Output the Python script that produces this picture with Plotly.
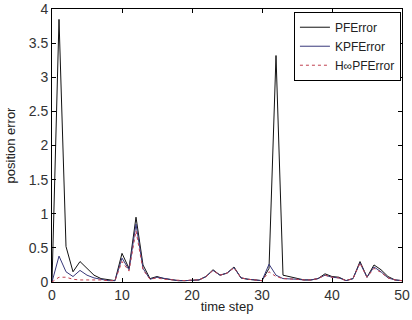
import plotly.graph_objects as go

time_step = list(range(0, 51))
pf_error = [0.0, 3.85, 0.52, 0.15, 0.30, 0.20, 0.10, 0.05, 0.03, 0.02,
            0.42, 0.20, 0.95, 0.25, 0.05, 0.08, 0.05, 0.03, 0.02, 0.02,
            0.03, 0.03, 0.08, 0.18, 0.10, 0.13, 0.22, 0.06, 0.04, 0.03,
            0.02, 0.20, 3.32, 0.10, 0.08, 0.05, 0.03, 0.03, 0.05, 0.12,
            0.08, 0.07, 0.02, 0.05, 0.30, 0.07, 0.25, 0.18, 0.08, 0.03, 0.02]
kpf_error = [0.0, 0.38, 0.15, 0.08, 0.17, 0.10, 0.06, 0.04, 0.02, 0.02,
             0.35, 0.18, 0.85, 0.20, 0.04, 0.07, 0.05, 0.03, 0.02, 0.02,
             0.03, 0.03, 0.08, 0.17, 0.10, 0.13, 0.21, 0.06, 0.04, 0.03,
             0.02, 0.26, 0.10, 0.05, 0.05, 0.04, 0.03, 0.03, 0.05, 0.10,
             0.07, 0.06, 0.02, 0.05, 0.28, 0.07, 0.22, 0.15, 0.06, 0.03, 0.02]
hinf_error = [0.0, 0.07, 0.07, 0.04, 0.03, 0.03, 0.04, 0.03, 0.02, 0.02,
              0.30, 0.16, 0.75, 0.18, 0.04, 0.06, 0.04, 0.03, 0.02, 0.02,
              0.03, 0.03, 0.08, 0.17, 0.10, 0.13, 0.21, 0.06, 0.04, 0.03,
              0.02, 0.15, 0.08, 0.05, 0.05, 0.04, 0.03, 0.03, 0.05, 0.10,
              0.07, 0.06, 0.02, 0.05, 0.28, 0.07, 0.20, 0.14, 0.06, 0.03, 0.02]
x_ticks = [0, 10, 20, 30, 40, 50]
y_ticks = [0, 0.5, 1, 1.5, 2, 2.5, 3, 3.5, 4]
y_tick_text = ["0", "0.5", "1", "1.5", "2", "2.5", "3", "3.5", "4"]

FONT = "Liberation Sans, Arial"

fig = go.Figure()
fig.add_trace(go.Scatter(x=time_step, y=pf_error, mode="lines", name="PFError",
                         line=dict(color="#111111", width=1)))
fig.add_trace(go.Scatter(x=time_step, y=kpf_error, mode="lines", name="KPFError",
                         line=dict(color="#38387a", width=1)))
fig.add_trace(go.Scatter(x=time_step, y=hinf_error, mode="lines", name="H∞PFError",
                         line=dict(color="#c04050", width=1, dash="dot")))

axis_common = dict(showgrid=False, zeroline=False, showline=True, linecolor="black",
                   linewidth=1, mirror="ticks", ticks="inside", ticklen=4,
                   tickcolor="black", automargin=False, ticklabeloverflow="allow",
                   tickfont=dict(family=FONT, size=14, color="#333"))
fig.update_xaxes(range=[0, 50], tickvals=x_ticks,
                 title=dict(text="time step", standoff=0,
                            font=dict(family=FONT, size=13, color="#222")), **axis_common)
fig.update_yaxes(range=[0, 4.002], tickvals=y_ticks, ticktext=y_tick_text,
                 title=dict(text="position error", standoff=10,
                            font=dict(family=FONT, size=13, color="#222")), **axis_common)

fig.update_layout(
    width=412, height=320,
    margin=dict(l=52, r=10, t=9, b=38),
    paper_bgcolor="white", plot_bgcolor="white",
    showlegend=True,
    legend=dict(x=0.997, y=0.99, xanchor="right", yanchor="top",
                bordercolor="black", borderwidth=1, bgcolor="white",
                font=dict(family=FONT, size=12, color="#222"),
                tracegroupgap=0, itemwidth=30),
)

fig.write_html("out.html", config={"displayModeBar": False},
               post_script="document.body.style.margin='0';")
